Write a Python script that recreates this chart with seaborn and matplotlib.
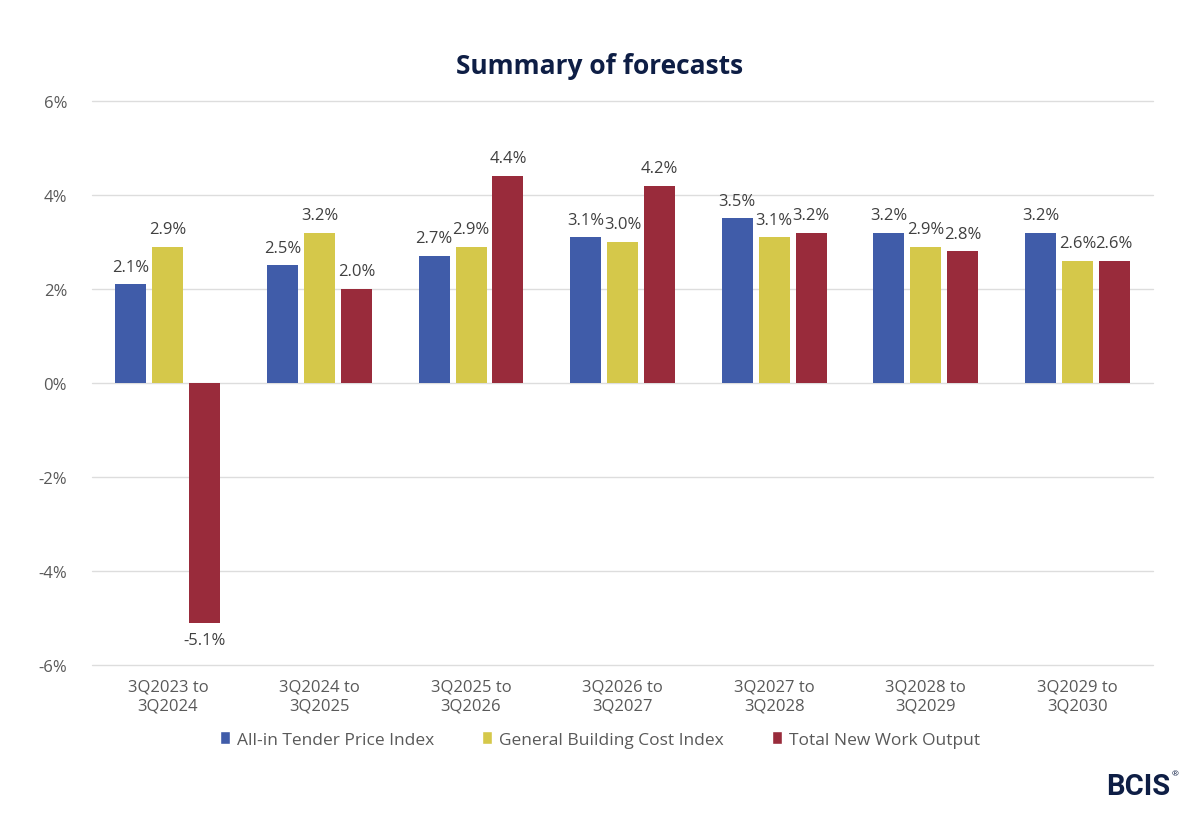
import pandas as pd
import matplotlib.pyplot as plt
import seaborn as sns
from matplotlib.patches import Patch

# Forecast data (annual % change)
periods = ["3Q2023 to\n3Q2024", "3Q2024 to\n3Q2025", "3Q2025 to\n3Q2026", "3Q2026 to\n3Q2027",
           "3Q2027 to\n3Q2028", "3Q2028 to\n3Q2029", "3Q2029 to\n3Q2030"]
series_names = ["All-in Tender Price Index", "General Building Cost Index", "Total New Work Output"]
tender_price = [2.1, 2.5, 2.7, 3.1, 3.5, 3.2, 3.2]
building_cost = [2.9, 3.2, 2.9, 3.0, 3.1, 2.9, 2.6]
new_work = [-5.1, 2.0, 4.4, 4.2, 3.2, 2.8, 2.6]
colors = ["#405CA9", "#D5C84A", "#992B3B"]

rows = []
for name, vals in zip(series_names, [tender_price, building_cost, new_work]):
    for p, v in zip(periods, vals):
        rows.append({"Period": p, "Series": name, "Value": v})
df = pd.DataFrame(rows)

sns.set_style("white")
plt.rcParams["font.family"] = ["Open Sans", "DejaVu Sans"]

fig = plt.figure(figsize=(12, 8.28), dpi=100)
ax = fig.add_axes([0.0767, 0.1957, 0.8843, 0.6811])

sns.barplot(data=df, x="Period", y="Value", hue="Series", palette=colors,
            width=0.73, gap=0.16, ax=ax, legend=False, saturation=1, linewidth=0)

for cont in ax.containers:
    ax.bar_label(cont, fmt="%.1f%%", padding=7, fontsize=12, color="#404040")

ax.set_ylim(-6, 6)
ax.set_yticks([-6, -4, -2, 0, 2, 4, 6])
ax.set_yticklabels([f"{t}%" for t in [-6, -4, -2, 0, 2, 4, 6]])
ax.yaxis.grid(True, color="#DDDDDD", linewidth=1, clip_on=False)
ax.set_axisbelow(True)
for s in ax.spines.values():
    s.set_visible(False)
ax.tick_params(axis="both", length=0, labelsize=12, labelcolor="#595959")
ax.tick_params(axis="x", pad=10)
ax.tick_params(axis="y", pad=18)
ax.set_xlabel("")
ax.set_ylabel("")

fig.text(0.5, 0.92, "Summary of forecasts", ha="center", va="center",
         fontsize=19, fontweight="bold", color="#0E1E45")

handles = [Patch(facecolor=c, label=n) for c, n in zip(colors, series_names)]
fig.legend(handles=handles, loc="center", bbox_to_anchor=(0.5, 0.106), ncol=3, frameon=False,
           fontsize=12.5, handlelength=0.55, handleheight=0.8, handletextpad=0.4, columnspacing=2.8,
           labelcolor="#595959")

fig.text(0.975, 0.05, "BCIS", ha="right", va="center", fontsize=21, fontweight="bold",
         color="#0E1E45", family=["Roboto", "DejaVu Sans"])
fig.text(0.976, 0.064, "®", ha="left", va="center", fontsize=6, color="#0E1E45")

fig.savefig("out.png", dpi=100)
